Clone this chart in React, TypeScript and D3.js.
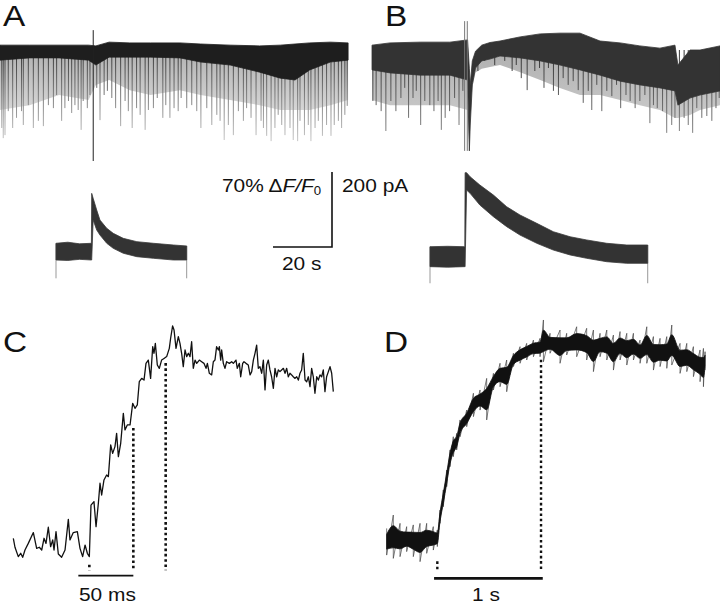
import React, { useEffect, useRef } from 'react';
import * as d3 from 'd3';

// ---------- A / B, top: membrane current (time s, current pA) ----------
// envelope rows: [t, upper noise edge, lower edge of dense band, lower edge of grey event mass]
const A_ENV = [
  [0, 13, -27, -160], [10, 13, -21, -147], [20, 13, -21, -120], [30, 13, -27, -133],
  [32.5, 11, -40, -93], [37, 21, -19, -80], [44, 19, -19, -107], [51, 19, -19, -120],
  [61, 19, -21, -107], [68, 16, -32, -120], [78, 13, -40, -133], [88, 11, -59, -147],
  [95, 13, -75, -160], [100, 16, -80, -160], [105, 19, -53, -160], [112, 21, -32, -147],
  [118, 19, -27, -133],
];
// spontaneous inward events: [t, peak pA]
const A_EVENTS = [
  [0.6, -208], [1.1, -235], [1.7, -227], [2.8, -163], [4.3, -208], [5.6, -181], [7.3, -163],
  [7.9, -200], [9.6, -147], [11.3, -208], [13.0, -189], [14.7, -203], [16.4, -147], [18.1, -155],
  [19.2, -120], [20.9, -189], [22.0, -155], [23.2, -136], [24.3, -168], [25.4, -147], [26.5, -160],
  [27.5, -213], [28.2, -136], [29.6, -155], [30.5, -120], [32.8, -101], [33.9, -187], [35.3, -120],
  [36.4, -109], [37.9, -128], [39.2, -155], [40.9, -203], [42.4, -136], [43.5, -163], [44.8, -208],
  [46.3, -155], [47.5, -173], [49.2, -213], [50.3, -160], [52.0, -155], [53.3, -128], [55.2, -181],
  [56.2, -147], [57.6, -181], [59.0, -155], [60.4, -163], [61.4, -128], [63.3, -155], [65.0, -147],
  [66.7, -163], [68.1, -208], [70.1, -155], [71.8, -200], [73.5, -173], [74.6, -189], [76.0, -240],
  [77.4, -200], [79.1, -227], [80.8, -163], [82.5, -189], [83.6, -155], [85.1, -181], [86.8, -227],
  [88.5, -189], [89.3, -208], [90.4, -229], [91.9, -243], [93.2, -208], [94.3, -173], [95.5, -200],
  [96.6, -227], [98.3, -208], [99.4, -240], [100.9, -243], [101.7, -189], [103.2, -227], [104.5, -200],
  [105.4, -243], [106.8, -208], [107.9, -189], [109.3, -229], [110.7, -200], [112.2, -229],
  [113.3, -200], [114.7, -189], [115.8, -208], [116.9, -173], [117.7, -149],
];
const A_STIM = [31.6, 53, -296];

const B_ENV = [
  [0, 13, -53, -133], [6.1, 19, -61, -147], [16.3, 21, -67, -147], [26.4, 21, -67, -147],
  [32.4, 27, -80, -160], [33.0, -50, -269, -269], [33.3, -93, -200, -200], [34.0, -29, -93, -100],
  [35.1, -3, -48, -60], [37.2, 13, -29, -50], [40, 20, -24, -45], [43.4, 24, -16, -40],
  [50.2, 35, -21, -59], [57, 43, -29, -80], [63.7, 45, -40, -101], [70.5, 45, -53, -120],
  [77.3, 24, -67, -120], [84.1, 19, -83, -133], [90.8, 11, -93, -147], [97.6, 5, -101, -160],
  [102.7, 13, -109, -181], [103.7, -40, -147, -181], [107.8, 0, -128, -173], [111.2, 0, -120, -160],
  [118, 11, -109, -147],
];
const B_EVENTS = [
  [0.3, -136], [1.4, -147], [3.1, -163], [4.7, -216], [6.4, -136], [8.1, -163], [9.8, -128],
  [11.1, -101], [12.4, -181], [13.9, -128], [15.0, -109], [16.5, -200], [17.9, -136], [19.6, -147],
  [21.0, -163], [22.4, -136], [23.5, -213], [24.8, -181], [26.3, -163], [28.0, -128], [29.5, -200],
  [30.8, -109], [35.9, -56], [38.2, -29], [41.6, -40], [45.0, -29], [47.5, -56], [48.9, -40],
  [50.6, -75], [52.6, -107], [55.2, -56], [56.8, -48], [58.3, -101], [59.8, -48], [61.5, -109],
  [63.2, -120], [64.8, -75], [66.5, -93], [68.2, -83], [69.9, -107], [71.6, -141], [73.3, -109],
  [74.5, -160], [76.2, -93], [77.9, -163], [79.6, -109], [81.3, -123], [82.9, -93], [84.3, -155],
  [86.1, -120], [87.5, -136], [89.2, -155], [90.8, -136], [92.5, -120], [94.2, -195], [95.4, -147],
  [96.7, -155], [98.5, -163], [99.9, -221], [101.6, -200], [102.7, -181], [104.2, -216],
  [105.8, -181], [107.2, -200], [108.7, -221], [110.1, -155], [111.8, -181], [113.5, -176],
  [115.2, -189], [116.6, -155], [117.7, -128],
];
const B_STIM = [31.4, 32.3];
const B_STIM_RANGE = [77, -269];

// ---------- A / B, bottom: fluorescence (time s, % dF/F0): [t, upper, lower] ----------
const A_FLUO = [
  [0, 10, -5.6], [4, 11, -6], [8, 9.5, -5], [12.0, 10, -5.6], [12.1, 56.6, -5.6], [12.6, 52, 31.7],
  [13.8, 41, 22.4], [14.9, 31.7, 17.7], [17.2, 24, 10], [19.4, 19.3, 5.3], [22.8, 14.6, 0.7],
  [27.4, 11.5, -2.5], [33.0, 10, -4], [39.8, 8.4, -5.6], [44.3, 7.5, -5.6],
];
const A_FLUO_EDGE = -22.7;
const B_FLUO = [
  [0, 9.6, -9], [6, 10, -9.5], [11.8, 9.6, -9], [11.9, 78.7, -9], [12.4, 78.7, 62.5],
  [13.6, 74.9, 59.4], [16.9, 67.2, 48.5], [21.5, 57.8, 37.6], [26, 46.9, 28.3], [30.5, 39.2, 20.5],
  [36.2, 31.4, 12.8], [41.8, 23.6, 6.5], [47.5, 18.9, 1.9], [53.1, 15.9, -1.2], [59.9, 12.8, -4.4],
  [66.7, 11.2, -5.9], [73.8, 11.2, -5.9],
];
const B_FLUO_EDGE = -24.5;

// scale bars
const BAR_TIME = 20; // s
const BAR_FLUO = 70; // % dF/F0

// ---------- C: rise, fast sweep (ms, % of plateau) ----------
const C_TRACE = [
  [0, 6.4], [1.5, 1.5], [4.5, -3.6], [6.7, -1.8], [8.5, -4.0], [10.6, 0], [13.6, 3.6], [18.2, 9.5],
  [21.2, 0.9], [23.6, 1.5], [25.8, 0], [27.9, 6.4], [29.7, 3.6], [31.8, 12.4], [33.9, 1.8], [35.8, 5.5],
  [37.0, 0], [38.8, 10.0], [40.9, -2.2], [43.9, -4.0], [47.0, 0], [50.0, 16.7], [51.5, 5.5], [54.5, 9.5],
  [58.2, 10.0], [60.6, 0.9], [63.0, -3.6], [65.2, 2.7], [67.3, -1.8], [69.1, -3.6], [70.6, 24.5],
  [73.3, 26.4], [75.2, 12.7], [77.3, 25.5], [78.8, 36.4], [80.3, 30.0], [82.4, 38.2], [84.8, 40.9],
  [86.4, 40.0], [88.5, 57.3], [90.3, 52.7], [92.4, 56.4], [93.9, 63.6], [95.5, 50.9], [97.6, 58.2],
  [100.0, 74.5], [101.5, 65.5], [103.6, 68.2], [106.1, 68.2], [108.5, 80.0], [110.6, 77.3],
  [112.7, 79.1], [114.5, 91.8], [116.7, 93.6], [118.8, 92.7], [120.6, 101.8], [122.7, 103.6],
  [124.8, 93.6], [126.7, 110.9], [127.9, 107.3], [129.1, 112.7], [130.9, 100.9], [132.7, 99.1],
  [134.8, 103.6], [137.0, 104.5], [139.4, 105.5], [141.8, 110.0], [143.0, 115.5], [144.8, 122.2],
  [146.1, 120.0], [147.9, 110.0], [150.0, 116.4], [151.5, 112.7], [153.0, 107.3], [154.5, 100.0],
  [156.1, 109.1], [157.6, 105.5], [159.1, 107.3], [160.6, 105.5], [162.1, 113.6], [163.6, 99.1],
  [165.2, 103.6], [166.7, 101.8], [169.1, 103.6], [171.2, 102.7], [173.3, 101.8], [175.2, 99.1],
  [176.4, 101.8], [178.2, 96.4], [180.3, 95.5], [181.8, 102.7], [183.3, 103.6], [184.8, 110.9],
  [186.4, 109.1], [187.3, 110.9], [188.5, 103.6], [189.4, 109.1], [190.9, 101.8], [192.4, 99.1],
  [193.9, 102.7], [196.4, 101.8], [198.5, 102.7], [200.0, 101.8], [202.4, 103.6], [203.6, 99.1],
  [205.5, 101.8], [206.7, 94.5], [208.5, 101.8], [209.7, 102.7], [211.5, 101.8], [213.6, 100.9],
  [215.2, 95.5], [216.7, 97.3], [218.2, 103.6], [219.7, 107.3], [221.2, 111.8], [222.7, 99.1],
  [224.2, 100.0], [225.8, 96.4], [227.3, 103.6], [228.8, 87.3], [230.3, 100.9], [231.8, 103.6],
  [233.3, 98.2], [234.8, 94.5], [236.4, 88.2], [237.9, 99.1], [239.4, 94.5], [240.9, 98.2],
  [242.4, 97.3], [243.9, 98.2], [245.5, 99.1], [247.0, 96.4], [248.5, 99.1], [250.0, 94.5],
  [251.5, 96.4], [253.0, 95.5], [254.5, 94.5], [256.1, 93.6], [257.6, 94.5], [259.1, 92.7],
  [260.6, 96.4], [262.1, 98.2], [263.6, 107.3], [265.2, 92.7], [266.7, 91.8], [268.2, 94.5],
  [269.7, 89.1], [271.2, 99.1], [272.7, 94.5], [274.2, 85.5], [275.8, 94.5], [277.3, 92.7],
  [278.8, 95.5], [280.3, 94.5], [281.8, 98.2], [283.3, 86.4], [284.8, 94.5], [286.4, 97.3],
  [287.9, 100.0], [289.4, 96.4], [290.9, 86.4],
];
const C_MARKS = [[69.1, -6.4], [109.1, 68.2], [138.5, 103.6]]; // [t, trace value]
const C_MARK_FLOOR = -11;
const C_BAR = [59.1, 109.1];
const C_BAR_LEVEL = -14;
const C_BAR_LABEL = '50 ms';

// ---------- D: rise, slow sweep (s, % of plateau): [t, upper, lower] ----------
const D_TRACE = [
  [0, 6.0, -7.8], [0.061, 12.9, -9.5], [0.123, 8.6, -8.6], [0.184, 6.9, -6.0], [0.245, 7.8, -8.6],
  [0.307, 8.6, -11.2], [0.368, 8.6, -6.9], [0.429, 6.9, -5.2], [0.466, 5.2, -3.4], [0.491, 15.5, 8.6],
  [0.521, 25.9, 17.2], [0.552, 36.2, 27.6], [0.583, 46.6, 37.9], [0.613, 53.4, 43.1], [0.644, 55.2, 46.6],
  [0.675, 62.1, 53.4], [0.736, 67.2, 58.6], [0.798, 75.9, 63.8], [0.859, 77.6, 67.2], [0.920, 83.6, 62.1],
  [0.982, 86.2, 77.6], [1.043, 91.4, 79.3], [1.104, 93.1, 76.7], [1.166, 96.6, 89.7], [1.227, 100, 91.4],
  [1.288, 101.7, 93.1], [1.350, 103.4, 94.8], [1.411, 104.3, 94.8], [1.442, 113.8, 92.2],
  [1.503, 106.9, 96.6], [1.595, 108.6, 91.4], [1.656, 106.9, 95.7], [1.748, 110.3, 94.8],
  [1.840, 109.5, 93.1], [1.902, 108.6, 87.1], [1.963, 106.9, 94.8], [2.025, 108.6, 93.1],
  [2.086, 106.0, 87.9], [2.147, 107.8, 93.1], [2.209, 106.9, 90.5], [2.270, 106.9, 93.1],
  [2.331, 103.4, 91.4], [2.393, 110.3, 91.4], [2.454, 105.2, 87.9], [2.515, 104.3, 89.7],
  [2.577, 105.2, 88.8], [2.623, 111.2, 90.5], [2.699, 101.7, 86.2], [2.761, 101.7, 87.1],
  [2.822, 100, 84.5], [2.883, 98.3, 81.9], [2.914, 99.1, 79.3], [2.929, 97.4, 87.9],
];
const D_MARKS = [[0.466, -9.5], [1.42, 94.8]];
const D_MARK_FLOOR = -15.5;
const D_BAR = [0.436, 1.436];
const D_BAR_LEVEL = -19.8;
const D_BAR_LABEL = '1 s';

const PANEL_LABELS = ['A', 'B', 'C', 'D'];

const FONT = '"Liberation Sans", Arial, Helvetica, sans-serif';

const App = () => {
  const svgRef = useRef(null);

  useEffect(() => {
    const svg = d3.select(svgRef.current);
    svg.selectAll('*').remove();

    const defs = svg.append('defs');
    const grad = (id, y1, y2, c1, c2) => {
      const g = defs.append('linearGradient')
        .attr('id', id).attr('gradientUnits', 'userSpaceOnUse')
        .attr('x1', 0).attr('x2', 0).attr('y1', y1).attr('y2', y2);
      g.append('stop').attr('offset', 0).attr('stop-color', c1);
      g.append('stop').attr('offset', 1).attr('stop-color', c2);
    };
    grad('gA', 55, 140, '#3a3a3a', '#c4c4c4');
    grad('gB', 55, 140, '#333', '#8a8a8a');

    // zigzag through each row's upper / lower value (min-max style trace)
    const zig = (rows, x, y) => {
      const pts = [];
      rows.forEach(r => { pts.push([x(r[0]), y(r[1])]); pts.push([x(r[0]), y(r[2])]); });
      return d3.line()(pts);
    };

    // --- top current traces ---
    const yI = d3.scaleLinear().domain([0, -200]).range([50, 125]);
    const xA = d3.scaleLinear().domain([0, BAR_TIME]).range([0, 59]);
    const xB = d3.scaleLinear().domain([0, BAR_TIME]).range([372, 431]);

    const drawCurrent = (x, env, events, grd, band) => {
      const g = svg.append('g');
      g.append('path')
        .attr('d', d3.area().x(d => x(d[0])).y0(d => yI(d[3])).y1(d => yI(d[2]))(env))
        .attr('fill', `url(#${grd})`).attr('opacity', 0.38);
      g.selectAll('line.ev').data(events).enter().append('line')
        .attr('x1', d => x(d[0])).attr('x2', d => x(d[0]))
        .attr('y1', yI(0)).attr('y2', d => yI(d[1]))
        .attr('stroke', `url(#${grd})`).attr('stroke-width', 1);
      g.append('path')
        .attr('d', d3.area().x(d => x(d[0])).y0(d => yI(d[2])).y1(d => yI(d[1]))(env))
        .attr('fill', band).attr('stroke', band).attr('stroke-width', 0.8);
      return g;
    };

    const gA = drawCurrent(xA, A_ENV, A_EVENTS, 'gA', '#1e1e1e');
    gA.append('line')
      .attr('x1', xA(A_STIM[0])).attr('x2', xA(A_STIM[0]))
      .attr('y1', yI(A_STIM[1])).attr('y2', yI(A_STIM[2]))
      .attr('stroke', '#222').attr('stroke-width', 1);

    const gB = drawCurrent(xB, B_ENV, B_EVENTS, 'gB', '#333');
    gB.selectAll('line.stim').data(B_STIM).enter().append('line')
      .attr('x1', d => xB(d)).attr('x2', d => xB(d))
      .attr('y1', yI(B_STIM_RANGE[0])).attr('y2', yI(B_STIM_RANGE[1]))
      .attr('stroke', '#777').attr('stroke-width', 1);

    // --- fluorescence traces ---
    const drawFluo = (x0, y0, rows, edge) => {
      const x = d3.scaleLinear().domain([0, BAR_TIME]).range([x0, x0 + 59]);
      const y = d3.scaleLinear().domain([0, BAR_FLUO]).range([y0, y0 - 75]);
      const g = svg.append('g');
      const first = rows[0];
      const last = rows[rows.length - 1];
      [first, last].forEach(r => {
        g.append('line')
          .attr('x1', x(r[0])).attr('x2', x(r[0]))
          .attr('y1', y(r[1])).attr('y2', y(edge))
          .attr('stroke', '#999').attr('stroke-width', 1);
      });
      g.append('path')
        .attr('d', d3.area().x(d => x(d[0])).y0(d => y(d[2])).y1(d => y(d[1]))(rows))
        .attr('fill', '#333').attr('stroke', '#3a3a3a').attr('stroke-width', 0.8);
    };
    drawFluo(56, 254, A_FLUO, A_FLUO_EDGE);
    drawFluo(430, 257, B_FLUO, B_FLUO_EDGE);

    // --- scale bar ---
    const xS = d3.scaleLinear().domain([0, BAR_TIME]).range([273, 332]);
    const yS = d3.scaleLinear().domain([0, BAR_FLUO]).range([247, 172]);
    svg.append('path')
      .attr('d', `M${xS(0)},${yS(0)}H${xS(BAR_TIME)}V${yS(BAR_FLUO)}`)
      .attr('fill', 'none').attr('stroke', '#111').attr('stroke-width', 1.6);

    const txt = (x, y, size) => svg.append('text')
      .attr('transform', `translate(${x},${y}) scale(1.1,1)`)
      .attr('font-family', FONT).attr('font-size', size).attr('fill', '#111');

    const t1 = txt(222, 191.5, 19);
    t1.append('tspan').text(`${BAR_FLUO}% \u0394`);
    t1.append('tspan').attr('font-style', 'italic').text('F/F');
    t1.append('tspan').attr('font-size', 12).attr('dy', 3).text('0');
    txt(342, 191.5, 19).text('200 pA');
    txt(282, 270, 19).text(`${BAR_TIME} s`);

    // --- C ---
    const xC = d3.scaleLinear().domain([0, 50]).range([13.33, 68.33]);
    const yC = d3.scaleLinear().domain([0, 100]).range([550, 366.67]);
    svg.append('path')
      .attr('d', d3.line().x(d => xC(d[0])).y(d => yC(d[1]))(C_TRACE))
      .attr('fill', 'none').attr('stroke', '#111').attr('stroke-width', 1.3)
      .attr('stroke-linejoin', 'round');
    svg.selectAll('line.cm').data(C_MARKS).enter().append('line')
      .attr('x1', d => xC(d[0])).attr('x2', d => xC(d[0]))
      .attr('y1', d => yC(d[1]) + 3).attr('y2', yC(C_MARK_FLOOR))
      .attr('stroke', '#111').attr('stroke-width', 2.6).attr('stroke-dasharray', '2.6,2.7');
    svg.append('line')
      .attr('x1', xC(C_BAR[0])).attr('x2', xC(C_BAR[1]))
      .attr('y1', yC(C_BAR_LEVEL)).attr('y2', yC(C_BAR_LEVEL))
      .attr('stroke', '#111').attr('stroke-width', 1.6);
    txt(79, 601, 19).text(C_BAR_LABEL);

    // --- D ---
    const xD = d3.scaleLinear().domain([0, 1]).range([386.67, 495.37]);
    const yD = d3.scaleLinear().domain([0, 100]).range([540, 346.67]);
    // dense core of the noisy trace (middle ~45 % of each bin's range)
    const core = d3.area()
      .x(d => xD(d[0]))
      .y0(d => yD((d[1] + d[2]) / 2 - 0.22 * (d[1] - d[2]) - 0.8))
      .y1(d => yD((d[1] + d[2]) / 2 + 0.22 * (d[1] - d[2]) + 0.8))
      .curve(d3.curveMonotoneX);
    svg.append('path')
      .attr('d', zig(D_TRACE, xD, yD))
      .attr('fill', 'none').attr('stroke', '#444').attr('stroke-width', 0.7);
    svg.append('path')
      .attr('d', core(D_TRACE))
      .attr('fill', '#111').attr('stroke', '#111').attr('stroke-width', 0.8);
    svg.selectAll('line.dm').data(D_MARKS).enter().append('line')
      .attr('x1', d => xD(d[0])).attr('x2', d => xD(d[0]))
      .attr('y1', d => yD(d[1]) + 3).attr('y2', yD(D_MARK_FLOOR))
      .attr('stroke', '#111').attr('stroke-width', 2.4).attr('stroke-dasharray', '2.6,2.7');
    svg.append('line')
      .attr('x1', xD(D_BAR[0])).attr('x2', xD(D_BAR[1]))
      .attr('y1', yD(D_BAR_LEVEL)).attr('y2', yD(D_BAR_LEVEL))
      .attr('stroke', '#111').attr('stroke-width', 2.7);
    txt(472, 601, 19).text(D_BAR_LABEL);

    // --- panel letters ---
    const letterPos = [[3, 26], [385, 26], [3, 352], [384, 352]];
    PANEL_LABELS.forEach((l, i) => {
      svg.append('text')
        .attr('transform', `translate(${letterPos[i][0]},${letterPos[i][1]}) scale(1.15,1)`)
        .attr('font-family', FONT).attr('font-size', 29).attr('fill', '#111')
        .text(l);
    });
  }, []);

  return (
    <svg
      ref={svgRef}
      width={720}
      height={604}
      style={{ position: 'absolute', left: 0, top: 0, background: '#fff' }}
    />
  );
};

export default App;
